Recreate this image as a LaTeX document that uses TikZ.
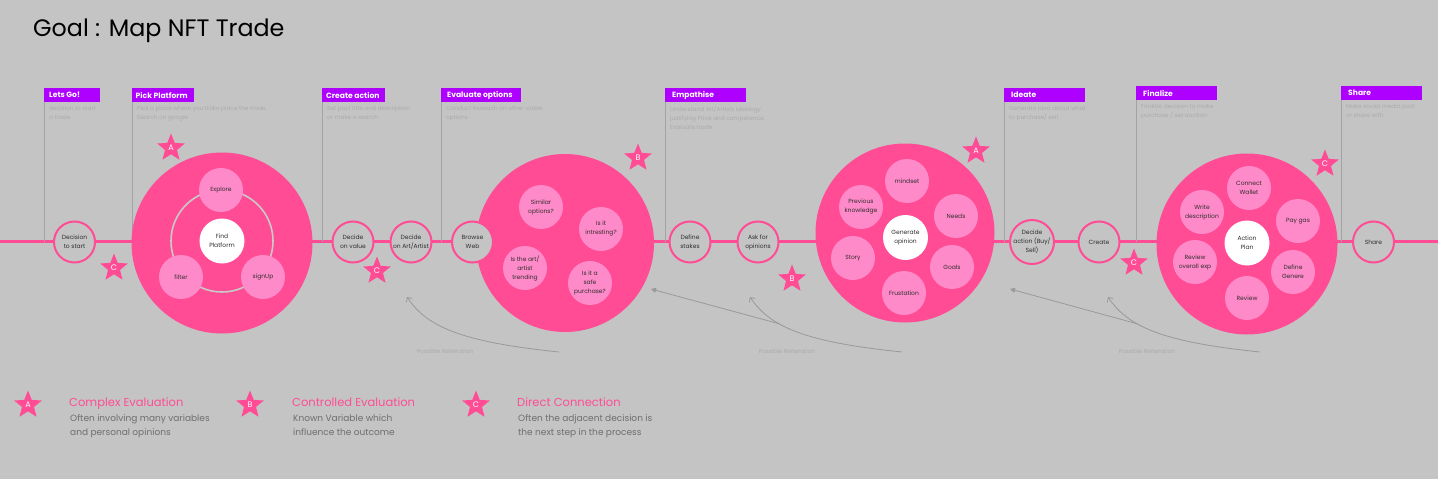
\documentclass[tikz,border=0pt]{standalone}
\usepackage{fontspec}
\setmainfont{Poppins}
\usetikzlibrary{shapes.geometric,arrows.meta,calc}
\definecolor{bgc}{HTML}{C4C4C4}
\definecolor{pinkM}{HTML}{FF4C95}
\definecolor{lpink}{HTML}{FF8AC9}
\definecolor{purp}{HTML}{AE00FF}
\definecolor{vgray}{HTML}{A3A3A3}
\definecolor{dgray}{HTML}{ABABAB}
\definecolor{txt}{HTML}{2E2E2E}
\definecolor{legtxt}{HTML}{6E6E6E}
\definecolor{ringc}{HTML}{C9C9C9}
\definecolor{reitc}{HTML}{999999}
\begin{document}
\begin{tikzpicture}[x=1pt,y=-1pt,
  hdr/.style={anchor=north west, fill=purp, minimum height=14pt, inner sep=0pt},
  hdrtxt/.style={anchor=west, text=white, font=\bfseries\fontsize{7.6}{9}\selectfont, inner xsep=5pt, inner ysep=0pt},
  desc/.style={anchor=north west, inner sep=0pt, align=left, font=\fontsize{5.8}{9}\selectfont, text=dgray},
  vln/.style={draw=vgray, line width=1pt},
  mainln/.style={draw=pinkM, line width=2.5pt},
  dnode/.style={circle, draw=pinkM, line width=2pt, fill=bgc, minimum size=41pt, inner sep=0pt, align=center, font=\fontsize{6}{9}\selectfont, text=txt},
  bigc/.style={circle, fill=pinkM, inner sep=0pt},
  subc/.style={circle, fill=lpink, minimum size=44pt, inner sep=0pt, align=center, font=\fontsize{6}{9}\selectfont, text=txt},
  cenc/.style={circle, fill=white, minimum size=45pt, inner sep=0pt, align=center, font=\fontsize{6}{9}\selectfont, text=txt},
  starmark/.style={star, star points=5, star point ratio=2.3, fill=pinkM, minimum size=29pt, inner sep=0pt, text=white, font=\fontsize{8}{8}\selectfont},
  reit/.style={draw=reitc, line width=0.8pt},
  reitlbl/.style={font=\fontsize{5.8}{7}\selectfont, text=dgray, inner sep=0pt},
  legt/.style={anchor=base west, inner sep=0pt, font=\fontsize{11.5}{13}\selectfont, text=pinkM},
  legd/.style={anchor=base west, inner sep=0pt, font=\fontsize{9}{11}\selectfont, text=legtxt}
]
\fill[bgc] (0,0) rectangle (1438,479);
\useasboundingbox (0,0) rectangle (1438,479);

% title
\node[anchor=base west, inner sep=0pt, font=\fontsize{23.8}{28}\selectfont, text=black] (title) at (33,36) {Goal : Map NFT Trade};

% main line
\coordinate (ml) at (0,241.5);
\coordinate (mr) at (1438,241.5);
\draw[mainln] (ml) -- (mr);

% headers
\node[hdr, minimum width=56pt] (h1) at (44,88) {};
\node[hdr, minimum width=62pt] (h2) at (132,88) {};
\node[hdr, minimum width=63pt] (h3) at (322,88) {};
\node[hdr, minimum width=80pt] (h4) at (441,88) {};
\node[hdr, minimum width=81pt] (h5) at (665,88) {};
\node[hdr, minimum width=81pt] (h6) at (1004,88) {};
\node[hdr, minimum width=81pt] (h7) at (1136,86) {};
\node[hdr, minimum width=81pt] (h8) at (1341,86) {};
\node[hdrtxt] (t1) at (h1.west) {Lets Go!};
\node[hdrtxt, inner xsep=3.5pt] (t2) at (h2.west) {Pick Platform};
\node[hdrtxt, inner xsep=4pt] (t3) at (h3.west) {Create action};
\node[hdrtxt, inner xsep=6pt] (t4) at (h4.west) {Evaluate options};
\node[hdrtxt, inner xsep=7pt] (t5) at (h5.west) {Empathise};
\node[hdrtxt, inner xsep=7pt] (t6) at (h6.west) {Ideate};
\node[hdrtxt, inner xsep=7pt] (t7) at (h7.west) {Finalize};
\node[hdrtxt, inner xsep=7pt] (t8) at (h8.west) {Share};

\foreach \h in {h1,h2,h3,h4,h5,h6,h7,h8}{
  \draw[vln] (\h.south west) -- (\h.south west |- ml);
}

% descriptions
\node[desc] (d1) at ($(h1.south west)+(5,3.5)$) {decision to start\\a trade};
\node[desc] (d2) at ($(h2.south west)+(5,3.5)$) {Pick a place where you'd like place the trade.\\Search on google};
\node[desc] (d3) at ($(h3.south west)+(5,3.5)$) {Set post title and description\\or make a search};
\node[desc] (d4) at ($(h4.south west)+(5,3.5)$) {Conduct Reseach on other viable\\options};
\node[desc] (d5) at ($(h5.south west)+(5,3.5)$) {Understand Art/Artists ideology\\justifying Price and competence.\\Evaluate trade};
\node[desc] (d6) at ($(h6.south west)+(5,3.5)$) {Generate Idea about what\\to purchase/ sell};
\node[desc] (d7) at ($(h7.south west)+(5,3.5)$) {Finalize decision to make\\purchase / set auction};
\node[desc] (d8) at ($(h8.south west)+(5,3.5)$) {Make social media post\\or share with};

% reiteration arrows
\coordinate (r1h) at (407,297); \coordinate (r1s) at (559,352);
\coordinate (r2h) at (750,297); \coordinate (r2s) at (902,352);
\coordinate (r3h) at (1108,297); \coordinate (r3s) at (1260,352);
\coordinate (r2p) at ($(r2h)+(30,27)$); \coordinate (r2t) at ($(r2h)+(-99,-8)$);
\coordinate (r3p) at ($(r3h)+(30,27)$); \coordinate (r3t) at ($(r3h)+(-98,-8)$);
\foreach \i in {1,2,3}{
  \draw[reit, -{Straight Barb[length=3.5pt,width=7pt]}] (r\i s) .. controls ($(r\i h)+(55,45)$) and ($(r\i h)+(20,30)$) .. (r\i h);
}
\draw[reit, -{Triangle[length=5pt,width=5pt]}] (r2p) -- (r2t);
\draw[reit, -{Triangle[length=5pt,width=5pt]}] (r3p) -- (r3t);
\node[reitlbl] (rl1) at (445,351) {Possible Reiteration};
\node[reitlbl] (rl2) at (787,351) {Possible Reiteration};
\node[reitlbl] (rl3) at (1147,351) {Possible Reiteration};

% big circle 1 : Pick Platform
\node[bigc, minimum size=181pt] (B1) at (222,243) {};
\node[circle, draw=ringc, line width=1.6pt, minimum size=102pt, inner sep=0pt] (ring1) at (222,241) {};
\node[cenc] (c1) at (222,241) {Find\\Platform};
\node[subc] (s11) at (221,190) {Explore};
\node[subc] (s12) at (181,277) {filter};
\node[subc] (s13) at (263,277) {signUp};

% big circle 2 : Evaluate options
\node[bigc, minimum size=178pt] (B2) at (565,243) {};
\node[subc] (s21) at (541,207) {Similar\\options?};
\node[subc] (s22) at (601,229) {Is it\\intresting?};
\node[subc] (s23) at (525,268) {Is the art/\\artist\\trending};
\node[subc] (s24) at (590,283) {Is it a\\safe\\purchase?};

% big circle 3 : Empathise
\node[bigc, minimum size=179pt] (B3) at (905,233) {};
\node[cenc] (c3) at (905.5,237.5) {Generate\\opinion};
\node[subc] (s31) at (907,181) {mindset};
\node[subc] (s32) at (861,207) {Previous\\knowledge};
\node[subc] (s33) at (956,216) {Needs};
\node[subc] (s34) at (853,258) {Story};
\node[subc] (s35) at (952,267) {Goals};
\node[subc] (s36) at (904,293) {Frustation};

% big circle 4 : Finalize
\node[bigc, minimum size=181pt] (B4) at (1247,244) {};
\node[cenc] (c4) at (1247,243) {Action\\Plan};
\node[subc] (s41) at (1249,188) {Connect\\Wallet};
\node[subc] (s42) at (1202,212) {Write\\description};
\node[subc] (s43) at (1298,221) {Pay gas};
\node[subc] (s44) at (1195,262) {Review\\overall exp};
\node[subc] (s45) at (1293,272) {Define\\Genere};
\node[subc] (s46) at (1247,298) {Review};

% decision circles
\node[dnode] (n1) at (74.5,242) {Decision\\to start};
\node[dnode] (n2) at (353,242) {Decide\\on value};
\node[dnode] (n3) at (411,242) {Decide\\on Art/Artist};
\node[dnode] (n4) at (472.5,242) {Browse\\Web};
\node[dnode] (n5) at (690,242) {Define\\stakes};
\node[dnode] (n6) at (758,242) {Ask for\\opinions};
\node[dnode] (n7) at (1032,242) {Decide\\action (Buy/\\Sell)};
\node[dnode] (n8) at (1099,242) {Create};
\node[dnode] (n9) at (1373.5,242) {Share};

% stars
\node[starmark] (sa1) at (171,148) {A};
\node[starmark] (sc1) at (114,268) {C};
\node[starmark] (sc2) at (377,271) {C};
\node[starmark] (sb1) at (638,158) {B};
\node[starmark] (sa2) at (976,151) {A};
\node[starmark] (sb2) at (792,279) {B};
\node[starmark] (sc3) at (1134,263) {C};
\node[starmark] (sc4) at (1325,164) {C};

% legend
\node[starmark] (la) at (28,405) {A};
\node[starmark] (lb) at (250,405) {B};
\node[starmark] (lc) at (476,405) {C};
\node[legt] (lat) at (69,406) {Complex Evaluation};
\node[legd] (lad1) at (70,421) {Often involving many variables};
\node[legd] (lad2) at (70,435.5) {and personal opinions};
\node[legt] (lbt) at (292,406) {Controlled Evaluation};
\node[legd] (lbd1) at (293,421) {Known Variable which};
\node[legd] (lbd2) at (293,435.5) {influence the outcome};
\node[legt] (lct) at (517,406) {Direct Connection};
\node[legd] (lcd1) at (518,421) {Often the adjacent decision is};
\node[legd] (lcd2) at (518,435.5) {the next step in the process};
\end{tikzpicture}
\end{document}
